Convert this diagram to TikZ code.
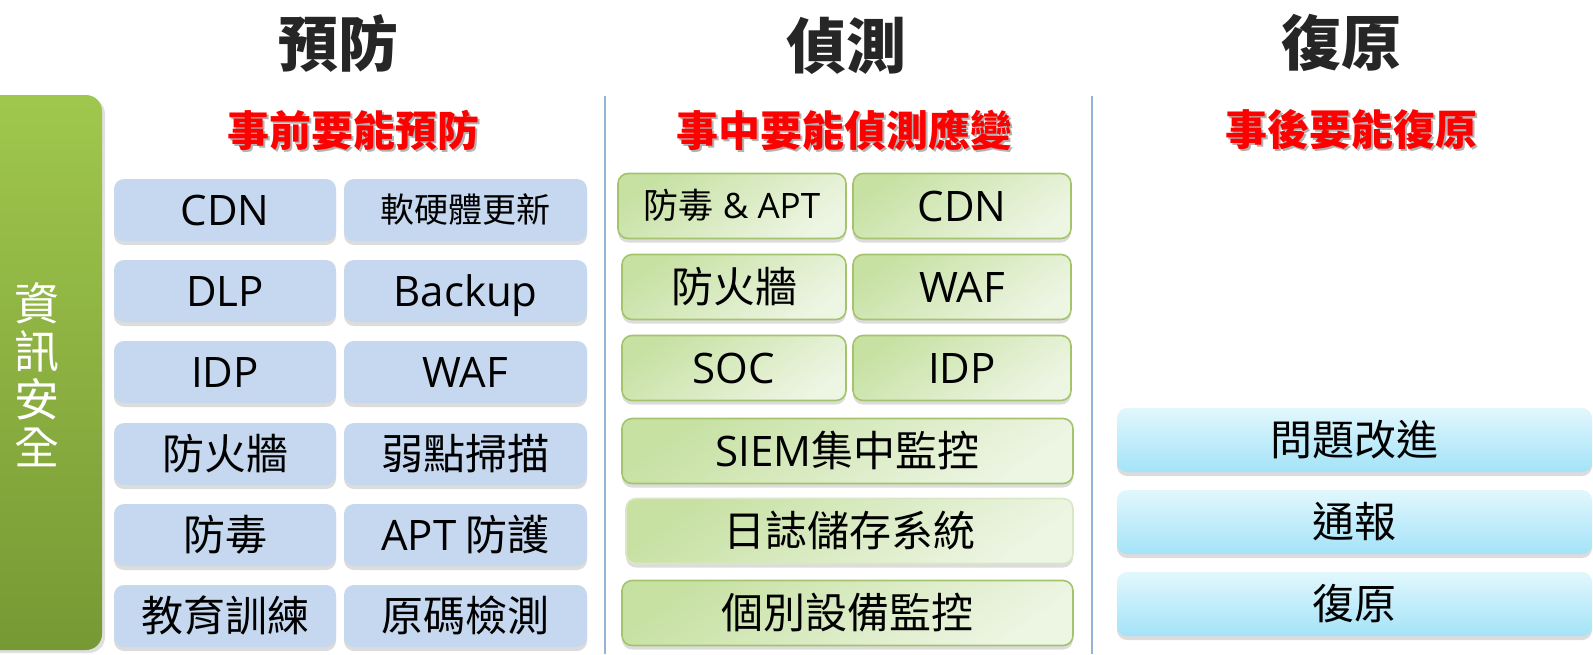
\documentclass[tikz,border=0pt]{standalone}
\usepackage{fontspec}
\setmainfont{Noto Sans CJK TC}
\newfontfamily\latfont{Open Sans}
\newcommand\lat[1]{{\latfont #1}}
\usetikzlibrary{shadows}
\definecolor{boxblue}{HTML}{C6D8EF}
\definecolor{gTop}{HTML}{C7E1A3}
\definecolor{gBot}{HTML}{EDF5E3}
\definecolor{gLine}{HTML}{A3C46C}
\definecolor{cTop}{HTML}{E2F7FD}
\definecolor{cBot}{HTML}{A3E3F8}
\definecolor{barTop}{HTML}{A0C74D}
\definecolor{barBot}{HTML}{779934}
\definecolor{divcol}{HTML}{95B3D7}
\begin{document}
\begin{tikzpicture}[x=0.5pt,y=-0.5pt,
  boxshadow/.style={drop shadow={opacity=0.28,shadow xshift=0pt,shadow yshift=-2pt}},
  basebox/.style={rounded corners=5pt,inner sep=0pt,minimum height=31pt,text height=19pt,text depth=3.4pt,font=\fontsize{21}{21}\selectfont,boxshadow},
  smalltext/.style={text height=15.5pt,text depth=2.8pt},
  bluebox/.style={basebox,fill=boxblue},
  greenbox/.style={basebox,draw=gLine,line width=0.8pt,top color=gTop,bottom color=gBot,shading angle=35,minimum height=32.5pt},
  cyanbox/.style={basebox,top color=cTop,bottom color=cBot,minimum height=32pt},
  titletext/.style={font=\fontsize{30}{30}\selectfont\bfseries,text=black!85},
  subtext/.style={font=\fontsize{21}{21}\selectfont\bfseries,text=red},
  subshadow/.style={font=\fontsize{21}{21}\selectfont\bfseries,text=black,opacity=0.3},
  divider/.style={draw=divcol,line width=1pt}]
\useasboundingbox (0,0) rectangle (1593,654);

% left green bar
\node[rounded corners=8pt,top color=barTop,bottom color=barBot,minimum width=66pt,minimum height=277.5pt,inner sep=0pt,
  drop shadow={opacity=0.25,shadow xshift=1.5pt,shadow yshift=-1.5pt}] (bar) at (36,372.5) {};
\node[text=white,font=\fontsize{22.5}{24}\selectfont,align=center] (bartext) at (37,375) {資\\訊\\安\\全};

% titles
\node[titletext] (t1) at (338,43) {預防};
\node[titletext] (t2) at (846,46) {偵測};
\node[titletext] (t3) at (1341,43) {復原};

% subtitles with soft shadow
\node[subshadow] (s1s) at (355,132) {事前要能預防};
\node[subtext] (s1) at (353,130) {事前要能預防};
\node[subshadow] (s2s) at (846,132) {事中要能偵測應變};
\node[subtext] (s2) at (844,130) {事中要能偵測應變};
\node[subshadow] (s3s) at (1353,132) {事後要能復原};
\node[subtext] (s3) at (1351,130) {事後要能復原};

% dividers
\coordinate (d1a) at (605,96); \coordinate (d1b) at (605,654);
\coordinate (d2a) at (1092,96); \coordinate (d2b) at (1092,654);
\draw[divider] (d1a) -- (d1b);
\draw[divider] (d2a) -- (d2b);

% prevention column
\node[bluebox,minimum width=111pt] (p11) at (225,210) {\lat{CDN}};
\node[bluebox,smalltext,minimum width=121.5pt,font=\fontsize{17}{17}\selectfont] (p12) at (465.5,210) {軟硬體更新};
\node[bluebox,minimum width=111pt] (p21) at (225,291) {\lat{DLP}};
\node[bluebox,minimum width=121.5pt] (p22) at (465.5,291) {\lat{Backup}};
\node[bluebox,minimum width=111pt] (p31) at (225,372) {\lat{IDP}};
\node[bluebox,minimum width=121.5pt] (p32) at (465.5,372) {\lat{WAF}};
\node[bluebox,minimum width=111pt] (p41) at (225,454) {防火牆};
\node[bluebox,minimum width=121.5pt] (p42) at (465.5,454) {弱點掃描};
\node[bluebox,minimum width=111pt] (p51) at (225,535) {防毒};
\node[bluebox,minimum width=121.5pt] (p52) at (465.5,535) {\lat{APT} 防護};
\node[bluebox,minimum width=111pt] (p61) at (225,616) {教育訓練};
\node[bluebox,minimum width=121.5pt] (p62) at (465.5,616) {原碼檢測};

% detection column
\node[greenbox,smalltext,minimum width=114pt,font=\fontsize{17.5}{17.5}\selectfont] (d11) at (732,206) {防毒\lat{ \& APT}};
\node[greenbox,minimum width=109pt] (d12) at (962,206) {\lat{CDN}};
\node[greenbox,minimum width=112pt] (d21) at (734,287) {防火牆};
\node[greenbox,minimum width=109pt] (d22) at (962,287) {\lat{WAF}};
\node[greenbox,minimum width=112pt] (d31) at (734,368) {\lat{SOC}};
\node[greenbox,minimum width=109pt] (d32) at (962,368) {\lat{IDP}};
\node[greenbox,minimum width=225.5pt] (d4) at (847.5,451) {\lat{SIEM}集中監控};
\node[greenbox,draw=gLine!40,minimum width=223.5pt] (d5) at (849.5,531) {日誌儲存系統};
\node[greenbox,minimum width=225.5pt] (d6) at (847.5,613) {個別設備監控};

% recovery column
\node[cyanbox,minimum width=237.5pt] (r1) at (1354.5,440) {問題改進};
\node[cyanbox,minimum width=237.5pt] (r2) at (1354.5,522) {通報};
\node[cyanbox,minimum width=237.5pt] (r3) at (1354.5,604) {復原};
\end{tikzpicture}
\end{document}
